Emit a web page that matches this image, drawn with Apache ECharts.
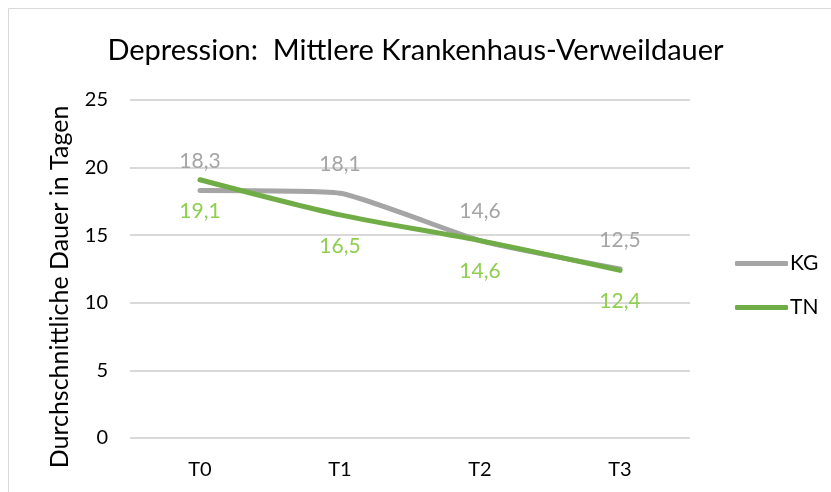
<!DOCTYPE html>
<html lang="de">
<head>
<meta charset="UTF-8">
<title>Depression: Mittlere Krankenhaus-Verweildauer</title>
<style>
  *{margin:0;}
  html,body{height:100%;background:#fff;}
  #chart{width:831px;height:492px;}
</style>
<script src="https://cdn.jsdelivr.net/npm/echarts@6/dist/echarts.min.js"></script>
</head>
<body>
<div id="chart"></div>
<script>
  // Daten
  const zeitpunkte = ['T0', 'T1', 'T2', 'T3'];
  const kgWerte = [18.3, 18.1, 14.6, 12.5];
  const tnWerte = [19.1, 16.5, 14.6, 12.4];
  const yTicks = [0, 5, 10, 15, 20, 25];

  const schrift = 'Lato, "Open Sans", sans-serif';
  const komma = p => String(p.value.toFixed(1)).replace('.', ',');

  const myChart = echarts.init(document.getElementById('chart'));
  myChart.setOption({
    animation: false,
    textStyle: {fontFamily: schrift},
    graphic: [{
      type: 'rect',
      shape: {x: 8.5, y: 8.5, width: 840, height: 500},
      style: {fill: 'none', stroke: '#d9d9d9', lineWidth: 1}
    }],
    title: {
      text: 'Depression:  Mittlere Krankenhaus-Verweildauer',
      left: 'center',
      top: 31,
      textStyle: {fontSize: 29, fontWeight: 'normal', color: '#000', fontFamily: schrift}
    },
    legend: {
      orient: 'vertical',
      left: 730,
      top: 248,
      itemWidth: 53,
      itemHeight: 5,
      itemGap: 23,
      icon: 'roundRect',
      textStyle: {fontSize: 21, color: '#000', padding: [0, 0, 0, -3]},
      data: ['KG', 'TN']
    },
    grid: {left: 130, right: 141, top: 100, bottom: 54},
    xAxis: {
      type: 'category',
      data: zeitpunkte,
      axisLine: {show: false},
      axisTick: {show: false},
      axisLabel: {fontSize: 20, color: '#000', margin: 22}
    },
    yAxis: {
      type: 'value',
      min: yTicks[0],
      max: yTicks[yTicks.length - 1],
      interval: 5,
      name: 'Durchschnittliche Dauer in Tagen',
      nameLocation: 'middle',
      nameGap: 58,
      nameTextStyle: {fontSize: 25, color: '#000', padding: [0, 36, 0, 0]},
      axisLabel: {fontSize: 20, color: '#000', margin: 22},
      splitLine: {lineStyle: {color: '#d9d9d9', width: 2}}
    },
    series: [
      {
        name: 'KG',
        type: 'line',
        data: kgWerte,
        smooth: 0.15,
        symbol: 'circle',
        symbolSize: 1,
        itemStyle: {color: '#a5a5a5'},
        lineStyle: {color: '#a5a5a5', width: 5, cap: 'round'},
        label: {show: true, position: 'top', distance: 18, fontSize: 21, color: '#a5a5a5', formatter: komma}
      },
      {
        name: 'TN',
        type: 'line',
        data: tnWerte,
        smooth: 0.3,
        symbol: 'circle',
        symbolSize: 1,
        itemStyle: {color: '#70ad47'},
        lineStyle: {color: '#70ad47', width: 5, cap: 'round'},
        label: {show: true, position: 'bottom', distance: 20, fontSize: 21, color: '#8fcf50', formatter: komma}
      }
    ]
  });
  window.onresize = myChart.resize;
</script>
</body>
</html>
